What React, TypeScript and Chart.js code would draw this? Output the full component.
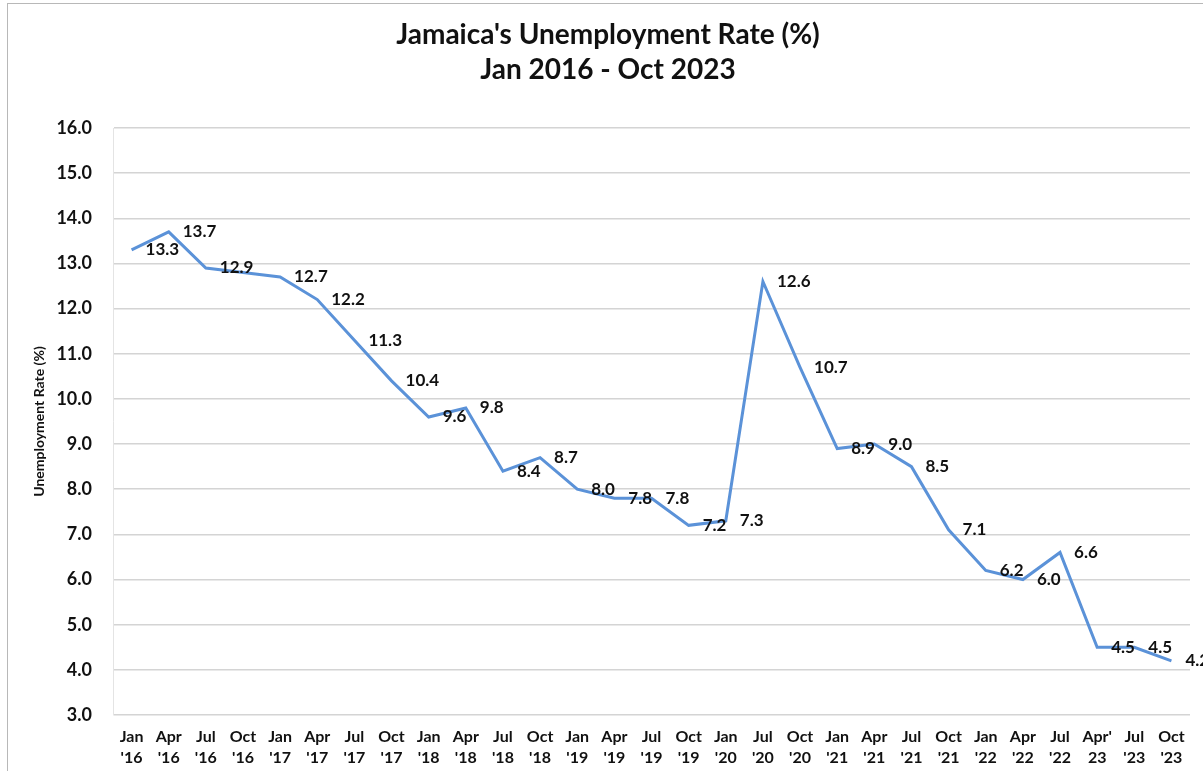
import React, { useEffect, useRef } from "react";
import { Chart, registerables } from "chart.js";

Chart.register(...registerables);

const categories: string[][] = [
  ["Jan", "'16"], ["Apr", "'16"], ["Jul", "'16"], ["Oct", "'16"],
  ["Jan", "'17"], ["Apr", "'17"], ["Jul", "'17"], ["Oct", "'17"],
  ["Jan", "'18"], ["Apr", "'18"], ["Jul", "'18"], ["Oct", "'18"],
  ["Jan", "'19"], ["Apr", "'19"], ["Jul", "'19"], ["Oct", "'19"],
  ["Jan", "'20"], ["Jul", "'20"], ["Oct", "'20"],
  ["Jan", "'21"], ["Apr", "'21"], ["Jul", "'21"], ["Oct", "'21"],
  ["Jan", "'22"], ["Apr", "'22"], ["Jul", "'22"],
  ["Apr'", "23"], ["Jul", "'23"], ["Oct", "'23"],
];

const unemploymentRate: number[] = [
  13.3, 13.7, 12.9, 12.8,
  12.7, 12.2, 11.3, 10.4,
  9.6, 9.8, 8.4, 8.7,
  8.0, 7.8, 7.8, 7.2,
  7.3, 12.6, 10.7,
  8.9, 9.0, 8.5, 7.1,
  6.2, 6.0, 6.6,
  4.5, 4.5, 4.2,
];

// which points carry a data label (Oct '16 has none in the original)
const showLabel: boolean[] = unemploymentRate.map((_, i) => i !== 3);

const titleLines: string[] = ["Jamaica's Unemployment Rate (%)", "Jan 2016 - Oct 2023"];
const yAxisTitle = "Unemployment Rate (%)";
const yMin = 3;
const yMax = 16;

const FONT = "Lato, 'Open Sans', sans-serif";

const dataLabelPlugin = {
  id: "dataLabels",
  afterDatasetsDraw(chart: any) {
    const ctx = chart.ctx;
    const meta = chart.getDatasetMeta(0);
    ctx.save();
    ctx.font = `bold 17px ${FONT}`;
    ctx.fillStyle = "#111";
    ctx.textAlign = "left";
    ctx.textBaseline = "middle";
    meta.data.forEach((pt: any, i: number) => {
      if (!showLabel[i]) return;
      ctx.fillText(unemploymentRate[i].toFixed(1), pt.x + 14, pt.y);
    });
    ctx.restore();
  },
};

export default function App() {
  const ref = useRef<HTMLCanvasElement>(null);

  useEffect(() => {
    if (!ref.current) return;
    const chart = new Chart(ref.current, {
      type: "line",
      data: {
        labels: categories,
        datasets: [
          {
            data: unemploymentRate,
            borderColor: "#5b92d8",
            borderWidth: 3,
            pointRadius: 0,
            tension: 0,
            fill: false,
          },
        ],
      },
      options: {
        responsive: false,
        animation: false,
        layout: { padding: { left: 26, right: 13, top: 0, bottom: 0 } },
        plugins: {
          legend: { display: false },
          tooltip: { enabled: false },
          title: {
            display: true,
            text: titleLines,
            color: "#111",
            font: { family: FONT, size: 28, weight: "bold", lineHeight: 1.25 },
            padding: { top: 17, bottom: 41 },
          },
        },
        scales: {
          x: {
            offset: true,
            grid: { display: false, drawTicks: false },
            border: { display: false },
            ticks: {
              color: "#111",
              font: { family: FONT, size: 16, weight: "bold", lineHeight: 1.31 },
              padding: 11,
              maxRotation: 0,
              autoSkip: false,
            },
            afterFit(scale: any) {
              scale.height = 56;
            },
          },
          y: {
            min: yMin,
            max: yMax,
            ticks: {
              stepSize: 1,
              color: "#111",
              font: { family: FONT, size: 18, weight: "bold" },
              padding: 21,
              callback: (v: any) => Number(v).toFixed(1),
            },
            grid: { color: "#d4d4d4", lineWidth: 1.5, drawTicks: false },
            border: { display: true, color: "#e4e4e4", width: 1 },
            title: {
              display: true,
              text: yAxisTitle,
              color: "#111",
              font: { family: FONT, size: 14, weight: "bold" },
              padding: { top: 5, bottom: 0 },
            },
            afterFit(scale: any) {
              scale.width = 87;
            },
          },
        },
      },
      plugins: [dataLabelPlugin],
    });
    return () => chart.destroy();
  }, []);

  return (
    <div style={{ position: "absolute", left: 0, top: 0, width: 1203, height: 771, background: "#fff", overflow: "hidden" }}>
      <div
        style={{
          position: "absolute",
          left: 7,
          top: 3,
          width: 1250,
          height: 800,
          border: "1px solid #b8b8b8",
        }}
      />
      <canvas ref={ref} width={1203} height={771} style={{ position: "absolute", left: 0, top: 0 }} />
    </div>
  );
}
